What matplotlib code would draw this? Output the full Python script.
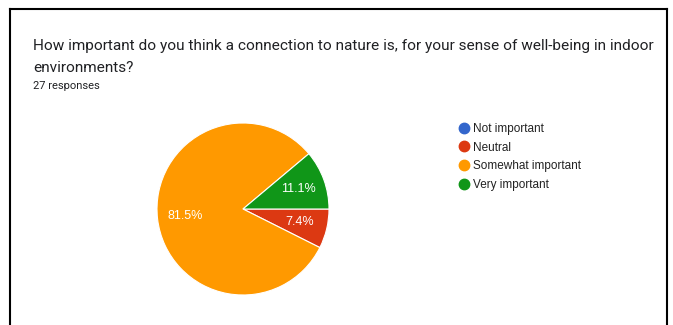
import matplotlib.pyplot as plt
from matplotlib.lines import Line2D

categories = ['Not important', 'Neutral', 'Somewhat important', 'Very important']
responses = [0, 2, 22, 3]
colors = ['#3366cc', '#dc3912', '#ff9900', '#109618']
title1 = 'How important do you think a connection to nature is, for your sense of well-being in indoor'
title2 = 'environments?'
subtitle = '27 responses'

W, H = 673, 325
fig = plt.figure(figsize=(W / 100, H / 100), dpi=100)

# frame lines (top, left, right) like the screenshot border
fig.add_artist(Line2D([9.5 / W, 666.5 / W], [1 - 8.5 / H, 1 - 8.5 / H], color='black', lw=1.5))
fig.add_artist(Line2D([9.5 / W, 9.5 / W], [0, 1 - 8.5 / H], color='black', lw=1.5))
fig.add_artist(Line2D([666.5 / W, 666.5 / W], [0, 1 - 8.5 / H], color='black', lw=1.5))

fig.text(33 / W, 1 - 50 / H, title1, fontsize=11.05, family='Roboto', color='#202124', va='baseline')
fig.text(33 / W, 1 - 72 / H, title2, fontsize=11.05, family='Roboto', color='#202124', va='baseline')
fig.text(33 / W, 1 - 89 / H, subtitle, fontsize=8, family='Roboto', color='#202124', va='baseline')

cx, cy, r = 243, 209, 86
ax = fig.add_axes([(cx - r) / W, (H - cy - r) / H, 2 * r / W, 2 * r / H])


def fmt(p):
    return '%.1f%%' % p if p > 0.5 else ''


wedges, texts, autotexts = ax.pie(responses, colors=colors, startangle=0, counterclock=False,
                                  radius=1, autopct=fmt, pctdistance=0.68,
                                  wedgeprops=dict(edgecolor='white', linewidth=0.8),
                                  textprops=dict(color='white', fontsize=9, family='Liberation Sans'))
ax.set_xlim(-1, 1)
ax.set_ylim(-1, 1)
ax.set_aspect('equal')
ax.axis('off')

handles = [Line2D([], [], marker='o', linestyle='', markersize=7.5, markerfacecolor=c,
                  markeredgecolor=c) for c in colors]
fig.legend(handles, categories, loc='upper left', bbox_to_anchor=(452 / W, 1 - 117 / H),
           frameon=False, prop=dict(family='Liberation Sans', size=8.5),
           handletextpad=0.3, labelspacing=0.57, borderpad=0, handlelength=1.0,
           labelcolor='#222222')

fig.savefig('out.png', dpi=100, facecolor='white')
